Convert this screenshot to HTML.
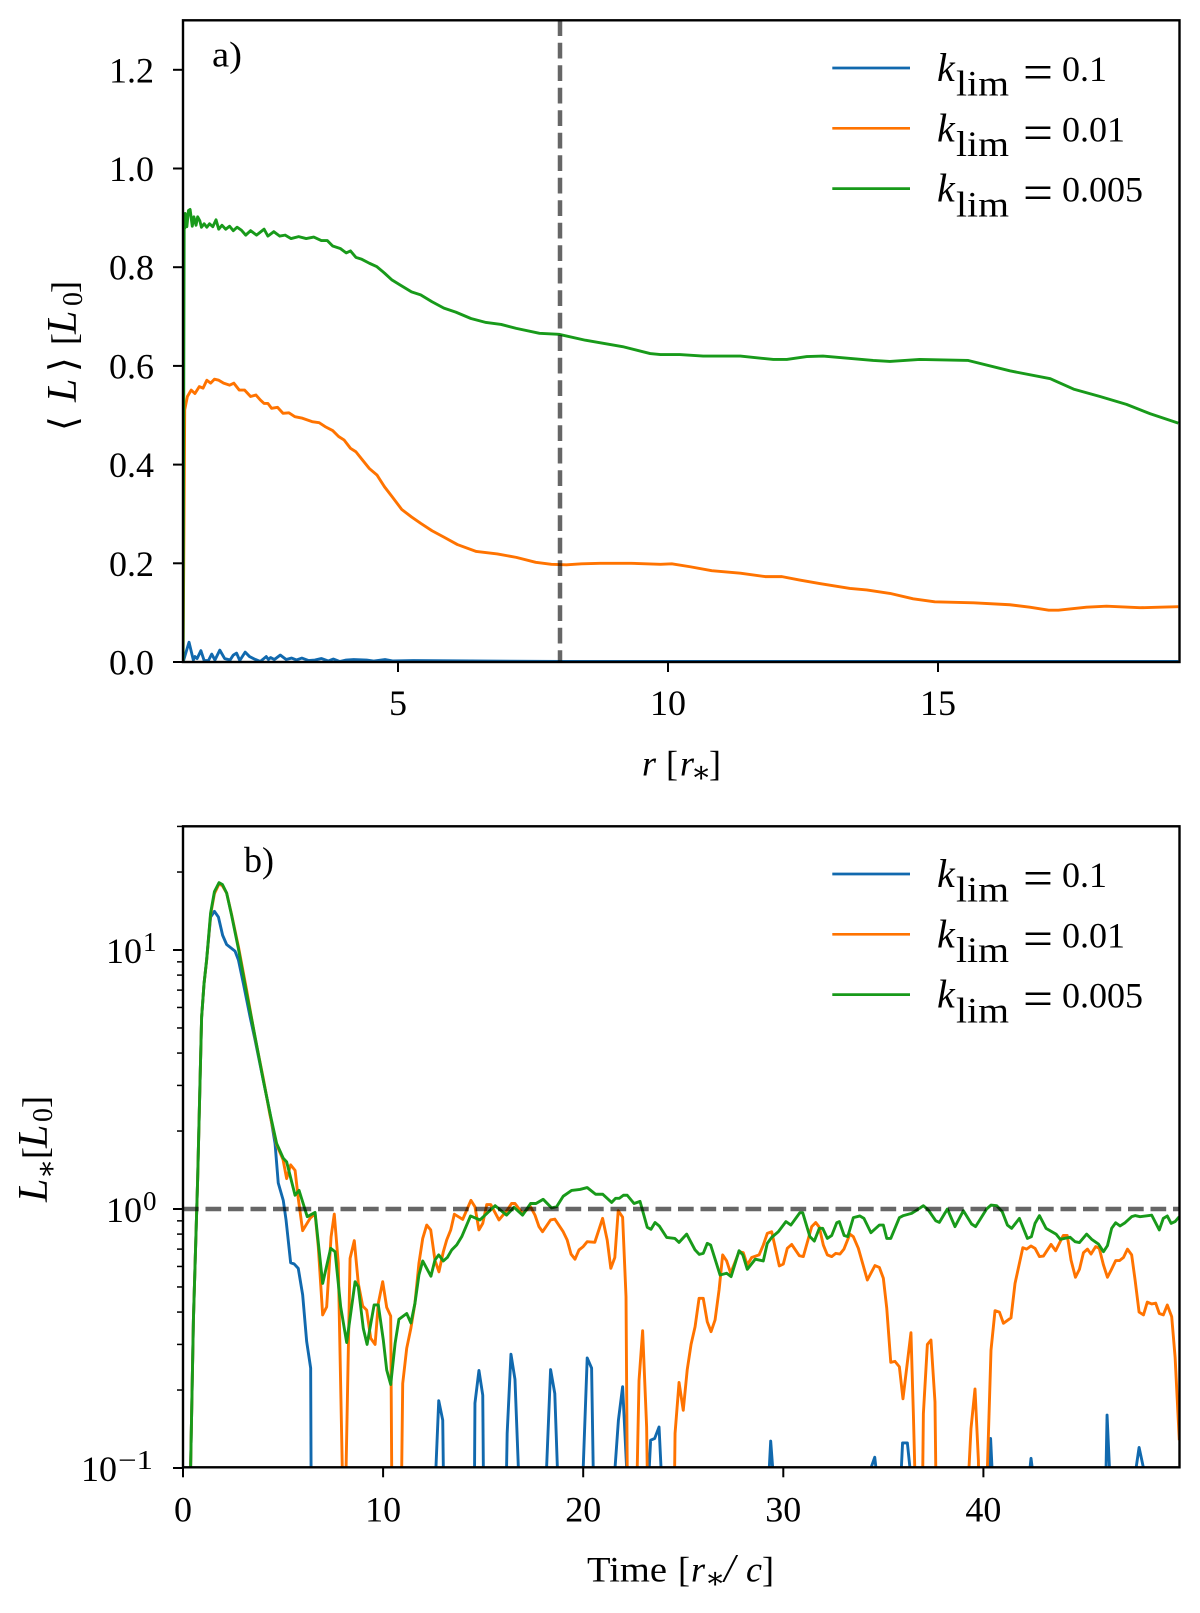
<!DOCTYPE html>
<html lang="en">
<head>
<meta charset="utf-8">
<title>Luminosity profiles</title>
<style>
html,body{margin:0;padding:0;background:#fff;}
svg{display:block;}
text{font-family:"Liberation Serif","DejaVu Serif",serif;fill:#000;font-size:36px;}
.it{font-style:italic;}
</style>
</head>
<body>
<svg id="chart" width="1200" height="1613" viewBox="0 0 1200 1613">
  <defs>
    <clipPath id="clip-a"><rect x="183" y="20.3" width="996.5" height="641.7"/></clipPath>
    <clipPath id="clip-b"><rect x="183" y="826.3" width="996.5" height="641"/></clipPath>
  </defs>
  <rect x="0" y="0" width="1200" height="1613" fill="#fff"/>
  <g id="panel-a"></g>
  <g id="panel-b"></g>

  <text x="212" y="66.7" textLength="30" lengthAdjust="spacingAndGlyphs">a)</text>
  <text x="244" y="872" textLength="30" lengthAdjust="spacingAndGlyphs">b)</text>

  <g>
    <text class="it" x="642" y="775.7">r</text>
    <text x="666" y="775.7">[</text>
    <text class="it" x="680" y="775.7">r</text>
    <text x="691" y="782" style="font-size:30px">∗</text>
    <text x="709" y="775.7">]</text>
  </g>
  <g>
    <text x="587" y="1581.7" textLength="80" lengthAdjust="spacingAndGlyphs">Time</text>
    <text x="678" y="1581.7">[</text>
    <text class="it" x="691" y="1581.7">r</text>
    <text x="705" y="1588" style="font-size:30px">∗</text>
    <text class="it" x="724" y="1581.7" style="font-size:40px">/</text>
    <text class="it" x="746" y="1581.7">c</text>
    <text x="762" y="1581.7">]</text>
  </g>
  <g>
    <text transform="translate(76,431) rotate(-90)" style='font-family:"DejaVu Sans","Liberation Serif",sans-serif;font-size:38px'>⟨</text>
    <text class="it" transform="translate(76,402) rotate(-90)" style="font-size:42px">L</text>
    <text transform="translate(76,372) rotate(-90)" style='font-family:"DejaVu Sans","Liberation Serif",sans-serif;font-size:38px'>⟩</text>
    <text transform="translate(76,345) rotate(-90)">[</text>
    <text class="it" transform="translate(76,334) rotate(-90)" style="font-size:42px">L</text>
    <text transform="translate(82,306) rotate(-90)" style="font-size:28px">0</text>
    <text transform="translate(76,293) rotate(-90)">]</text>
  </g>
  <g>
    <text class="it" transform="translate(47,1202) rotate(-90)" style="font-size:42px">L</text>
    <text transform="translate(56,1179) rotate(-90)" style="font-size:30px">∗</text>
    <text transform="translate(47,1159) rotate(-90)">[</text>
    <text class="it" transform="translate(47,1148) rotate(-90)" style="font-size:42px">L</text>
    <text transform="translate(52,1122) rotate(-90)" style="font-size:28px">0</text>
    <text transform="translate(47,1108) rotate(-90)">]</text>
  </g>
</svg>
<script>
// ---------- Panel a: radial profile data ----------
const radiusBlueA = [
1.02,1.13,1.21,1.24,1.28,1.35,1.41,1.49,1.55,1.61,
1.70,1.79,1.89,1.95,2.01,2.07,2.17,2.25,2.36,2.45,
2.56,2.60,2.64,2.71,2.82,2.93,3.03,3.12,3.22,3.34,
3.46,3.58,3.71,3.80,3.92,4.04,4.18,4.42,4.55,4.76,
4.91,5.28,8.02,19.45];
const lumBlueA = [
0,.04,.004,.011,.007,.023,.003,.003,.016,.004,
.024,.007,.004,.014,.018,.003,.02,.011,.005,.001,
.011,.005,.009,.005,.014,.005,.008,.004,.008,.003,
.004,.007,.002,.006,.001,.004,.005,.004,.002,.005,
.002,.003,.001,.001];
const radiusOrangeA = [
1.02,1.05,1.10,1.17,1.24,1.32,1.39,1.46,1.53,1.60,
1.68,1.77,1.88,1.96,2.06,2.16,2.27,2.37,2.45,2.52,
2.59,2.66,2.77,2.87,2.98,3.09,3.23,3.41,3.54,3.65,
3.79,3.90,4.00,4.12,4.22,4.33,4.47,4.61,4.75,4.89,
5.07,5.25,5.42,5.63,5.85,6.10,6.45,6.84,7.19,7.55,
7.84,8.12,8.40,8.74,9.32,9.86,10.07,10.41,10.81,11.34,
11.80,12.11,12.44,12.81,13.37,13.68,14.11,14.54,14.94,15.66,
16.33,16.70,17.05,17.23,17.75,18.12,18.74,19.11,19.45];
const lumOrangeA = [
0,.511,.538,.551,.544,.558,.555,.571,.565,.573,
.571,.565,.561,.565,.551,.551,.538,.541,.531,.524,
.524,.514,.516,.504,.505,.497,.494,.487,.485,.477,
.469,.457,.45,.433,.426,.411,.392,.379,.355,.335,
.309,.294,.281,.266,.253,.238,.224,.219,.212,.202,
.198,.197,.199,.2,.2,.198,.199,.193,.185,.18,
.173,.173,.166,.159,.149,.146,.139,.128,.122,.12,
.116,.111,.105,.105,.111,.113,.11,.111,.112];
const radiusGreenA = [
1.02,1.04,1.05,1.06,1.09,1.12,1.15,1.19,1.22,1.26,
1.29,1.33,1.36,1.41,1.46,1.51,1.57,1.63,1.68,1.74,
1.81,1.88,1.95,2.02,2.10,2.18,2.27,2.38,2.52,2.59,
2.70,2.81,2.91,3.02,3.16,3.30,3.44,3.58,3.69,3.79,
3.93,4.04,4.12,4.22,4.33,4.47,4.61,4.75,4.89,5.04,
5.25,5.42,5.63,5.85,6.07,6.35,6.63,6.91,7.19,7.62,
7.98,8.47,9.16,9.67,9.86,10.22,10.65,11.34,11.95,12.20,
12.57,12.87,13.80,14.11,14.66,15.56,16.33,17.08,17.51,18.00,
18.49,18.93,19.45];
const lumGreenA = [
0,.88,.879,.909,.882,.915,.917,.883,.902,.885,
.902,.894,.881,.888,.881,.888,.882,.896,.877,.885,
.877,.883,.874,.881,.875,.865,.874,.865,.877,.863,
.872,.863,.865,.858,.862,.858,.861,.854,.854,.843,
.838,.829,.833,.820,.816,.808,.801,.788,.774,.764,
.750,.744,.730,.717,.709,.696,.688,.684,.676,.666,
.664,.652,.639,.625,.623,.623,.62,.62,.613,.613,
.619,.62,.611,.609,.613,.611,.59,.574,.553,.538,
.522,.503,.484];
const radiusMarker = 8;
const xTicksA = [5,10,15];
const yTicksA = [0,0.2,0.4,0.6,0.8,1.0,1.2];

// ---------- Panel b: time series data ----------
const timeBlueB = [
.34,.38,.52,.73,.93,1.05,1.18,1.38,1.57,1.77,1.98,
2.18,2.60,2.77,3.02,3.35,3.60,4.01,4.35,4.60,4.76,
5.01,5.15,5.38,5.56,5.76,5.98,6.18,6.38,6.40,6.41,
12.62,12.64,12.78,12.98,13.01,13.03,
14.55,14.57,14.59,14.79,14.98,15.01,15.03,
16.15,16.17,16.20,16.39,16.59,16.76,16.78,
18.15,18.17,18.37,18.58,18.71,18.73,
19.98,20.00,20.20,20.42,20.50,20.52,
21.57,21.59,21.76,21.97,22.17,22.19,
23.28,23.30,23.37,23.57,23.79,23.89,23.91,
29.28,29.30,29.37,29.47,29.49,
34.36,34.38,34.57,34.63,34.65,
35.88,35.90,35.96,36.20,36.33,36.35,
40.26,40.28,40.36,40.43,40.45,
42.31,42.33,42.38,42.44,42.46,
46.11,46.13,46.18,46.30,46.32,
47.61,47.63,47.78,48.00,48.02,49.79];
const lumBlueB = [
.06,.1,.373,1.29,5.5,7.4,9.15,13.4,14.1,13.4,11.4,
10.5,9.9,9.15,7.4,5.53,4.5,3.15,2.34,1.79,1.26,
1.08,.907,.62,.613,.59,.466,.308,.243,.1,.06,
.06,.1,.182,.153,.1,.06,
.06,.1,.178,.238,.191,.1,.06,
.06,.1,.136,.275,.22,.1,.06,
.06,.1,.24,.194,.1,.06,
.06,.1,.266,.243,.1,.06,
.06,.1,.153,.206,.1,.06,
.06,.1,.128,.13,.144,.1,.06,
.06,.1,.127,.1,.06,
.06,.1,.11,.1,.06,
.06,.1,.125,.125,.1,.06,
.06,.1,.13,.1,.06,
.06,.1,.109,.1,.06,
.06,.1,.16,.1,.06,
.06,.1,.12,.1,.06,.06];
const timeOrangeB = [
.34,.38,.52,.73,.93,1.05,1.18,1.38,1.57,1.80,1.97,
2.18,2.43,2.77,3.18,3.60,4.01,4.35,4.68,5.00,5.18,
5.38,5.60,5.76,5.98,6.35,6.60,6.76,6.98,7.18,7.40,
7.56,7.76,7.96,8.00,8.13,8.15,8.35,8.56,8.76,8.98,
9.18,9.38,9.60,9.76,9.98,10.18,10.38,10.43,10.46,10.90,
10.93,10.98,11.18,11.39,11.59,11.79,11.98,12.18,12.38,12.59,
12.79,13.01,13.18,13.38,13.56,13.98,14.39,14.59,14.79,14.98,
15.18,15.38,15.79,16.20,16.42,16.59,16.97,17.37,17.59,17.79,
17.97,18.37,18.58,19.00,19.20,19.39,19.59,19.79,20.00,20.20,
20.58,20.97,21.20,21.38,21.58,21.75,21.97,22.14,22.20,22.25,
22.65,22.70,22.79,22.97,23.17,23.20,23.24,24.53,24.57,24.59,
24.79,25.00,25.20,25.39,25.59,25.79,26.00,26.20,26.39,26.59,
26.79,26.97,27.17,27.37,27.79,28.00,28.20,28.42,28.79,29.00,
29.20,29.42,29.80,30.00,30.20,30.42,30.80,31.00,31.42,31.62,
31.80,32.00,32.20,32.42,32.62,32.83,33.03,33.33,33.50,33.75,
34.20,34.58,34.80,35.00,35.17,35.37,35.58,35.80,35.98,36.38,
36.50,36.57,36.63,36.92,36.97,37.00,37.20,37.38,37.58,37.62,
37.66,39.24,39.28,39.38,39.58,39.75,39.80,40.13,40.20,40.38,
40.58,40.80,41.00,41.38,41.58,41.97,42.16,42.38,42.58,42.80,
43.00,43.38,43.61,43.99,44.19,44.38,44.60,44.80,45.00,45.20,
45.38,45.61,45.79,46.00,46.20,46.38,46.61,46.80,47.00,47.20,
47.41,47.58,47.78,48.00,48.19,48.41,48.61,48.79,48.99,49.19,
49.41,49.58,49.79];
const lumOrangeB = [
.06,.1,.373,1.29,5.5,7.4,9.1,13.7,16.5,18.0,17.7,
16.6,13.7,10.3,7.0,4.6,3.2,2.3,1.77,1.55,1.31,
1.48,1.41,1.1,.825,.92,.96,.716,.39,.419,.78,
.956,.617,.1,.06,.06,.1,.645,.755,.516,.422,
.407,.317,.30,.432,.524,.417,.386,.1,.06,.06,
.1,.212,.29,.347,.432,.617,.77,.867,.83,.635,
.572,.684,.76,.83,.955,.912,1.08,1.02,.83,.88,
1.04,1.04,.907,.99,1.05,1.05,.962,1.02,.947,.855,
.817,.907,.914,.817,.759,.67,.64,.695,.716,.748,
.744,.92,.759,.59,.65,.985,.93,.458,.1,.06,
.06,.1,.218,.339,.144,.1,.06,.06,.1,.136,
.214,.167,.24,.3,.351,.452,.452,.367,.336,.373,
.487,.665,.63,.565,.684,.678,.608,.65,.665,.726,
.805,.817,.603,.613,.705,.73,.66,.655,.855,.887,
.85,.726,.665,.655,.674,.67,.70,.80,.782,.705,
.532,.605,.595,.54,.414,.256,.258,.246,.185,.333,
.162,.1,.06,.06,.1,.162,.30,.312,.18,.1,
.06,.06,.1,.142,.202,.107,.06,.06,.1,.285,
.405,.40,.362,.38,.516,.709,.70,.72,.705,.655,
.658,.73,.69,.79,.79,.635,.545,.585,.678,.70,
.67,.716,.705,.608,.545,.58,.632,.632,.65,.70,
.665,.532,.40,.39,.437,.43,.433,.395,.39,.426,
.384,.268,.128];
const timeGreenB = [
.34,.38,.52,.73,.93,1.05,1.18,1.38,1.57,1.80,1.97,
2.18,2.43,2.77,3.18,3.60,4.01,4.35,4.68,5.01,5.18,
5.60,5.80,6.21,6.60,6.98,7.38,7.60,7.88,8.18,8.60,
8.76,9.01,9.20,9.55,9.76,10.01,10.18,10.38,10.60,10.79,
11.18,11.39,11.59,11.79,11.98,12.39,12.59,12.78,13.01,13.21,
13.43,13.68,13.93,14.37,14.84,15.60,16.17,16.54,16.97,17.37,
17.64,18.00,18.42,18.67,19.00,19.42,19.84,20.20,20.62,20.98,
21.42,21.62,21.81,22.01,22.20,22.54,22.84,23.20,23.39,23.59,
23.80,24.17,24.58,24.79,25.17,25.59,25.80,26.00,26.20,26.37,
26.84,27.17,27.39,27.79,27.98,28.20,28.60,29.00,29.20,29.42,
29.75,30.13,30.38,30.83,30.97,31.33,31.55,31.80,31.97,32.20,
32.42,32.67,32.80,33.04,33.22,33.50,33.83,34.03,34.38,34.80,
35.00,35.17,35.37,35.80,36.00,36.41,36.67,37.00,37.25,37.62,
37.80,38.20,38.58,39.00,39.41,39.61,40.16,40.38,40.66,40.94,
41.20,41.41,41.80,42.20,42.40,42.58,42.80,43.13,43.63,43.84,
44.33,44.58,44.80,45.16,45.41,45.75,46.00,46.20,46.41,46.61,
46.83,47.08,47.41,47.58,47.83,48.41,48.79,48.99,49.19,49.38,
49.58,49.79];
const lumGreenB = [
.06,.1,.373,1.29,5.5,7.4,9.15,13.9,16.8,18.2,17.9,
16.6,13.6,10.1,6.8,4.63,3.15,2.34,1.79,1.57,1.52,
1.13,1.18,.934,.97,.516,.705,.684,.419,.305,.524,
.501,.346,.30,.426,.426,.312,.239,.21,.303,.375,
.395,.363,.432,.556,.63,.55,.635,.665,.63,.65,
.695,.727,.782,.94,.907,1.03,.947,1.015,.947,1.05,
1.05,1.09,1.01,1.02,1.12,1.18,1.19,1.21,1.14,1.14,
1.06,1.10,1.10,1.13,1.13,1.05,1.07,.85,.835,.887,
.86,.777,.77,.743,.80,.695,.668,.674,.737,.726,
.556,.565,.548,.69,.665,.585,.64,.63,.737,.777,
.817,.894,.867,.968,.968,.782,.752,.842,.842,.77,
.79,.885,.894,.79,.782,.926,.94,.92,.81,.867,
.867,.77,.77,.926,.943,.962,.99,1.03,.99,.90,
.888,1.0,.855,.985,.875,.855,1.0,1.035,1.03,.977,
.867,.842,.92,.77,.782,.88,.943,.842,.80,.764,
.778,.748,.742,.80,.764,.732,.684,.722,.842,.885,
.86,.885,.934,.943,.934,.947,.83,.92,.94,.88,
.894,.934];
const luminosityMarker = 1;
const xTicksB = [0,10,20,30,40];
const yTickExponents = [-1,0,1];
const yMinorMultipliers = [2,3,4,5,6,7,8,9];
const legendValues = ['0.1','0.01','0.005'];

// ---------- Axis functions ----------
const svg = document.getElementById('chart');
const NS = svg.namespaceURI;
const AX = {left:183, right:1179.5, topA:20.3, bottomA:662, topB:826.3, bottomB:1467.3};
const xA = r => 398 + (r - 5) * 54;
const yA = v => AX.bottomA - v * 493.5;
const xB = t => AX.left + t * 20.01;
const yB = v => 1209 - Math.log10(v) * 259;

const COLORS = {blue:'#1169ae', orange:'#ff7300', green:'#189a1a'};

function addLine(parent, x1, y1, x2, y2, width, name) {
  const el = document.createElementNS(NS, 'line');
  
  
  el.setAttribute('x1', x1);
  el.setAttribute('y1', y1);
  el.setAttribute('x2', x2);
  el.setAttribute('y2', y2);
  el.setAttribute('stroke', '#000');
  el.setAttribute('stroke-width', width);
  parent.appendChild(el);
  return el;
}
function addText(parent, str, x, y, name, anchor, size, len) {
  const el = document.createElementNS(NS, 'text');
  
  
  el.setAttribute('x', x);
  el.setAttribute('y', y);
  if (anchor) el.setAttribute('text-anchor', anchor);
  if (size) el.style.fontSize = size + 'px';
  if (len) {
    el.setAttribute('textLength', len);
    el.setAttribute('lengthAdjust', 'spacingAndGlyphs');
  }
  el.textContent = str;
  parent.appendChild(el);
  return el;
}
function addSeries(parent, xs, ys, xFn, yFn, color, clipId, name) {
  const el = document.createElementNS(NS, 'path');
  
  
  let d = '';
  for (let i = 0; i < xs.length; i++) {
    d += (i ? 'L' : 'M') + xFn(xs[i]).toFixed(2) + ' ' + yFn(ys[i]).toFixed(2);
  }
  el.setAttribute('d', d);
  el.setAttribute('fill', 'none');
  el.setAttribute('stroke', color);
  el.setAttribute('stroke-width', '2.9');
  el.setAttribute('stroke-linejoin', 'round');
  el.setAttribute('clip-path', 'url(#' + clipId + ')');
  parent.appendChild(el);
  return el;
}
function addDashed(parent, x1, y1, x2, y2, name) {
  const el = addLine(parent, x1, y1, x2, y2, 4.5, name);
  el.setAttribute('stroke-opacity', '0.6');
  el.setAttribute('stroke-dasharray', '15.7 6.8');
  return el;
}
function addSpines(parent, top, bottom, name) {
  const el = document.createElementNS(NS, 'rect');
  
  
  el.setAttribute('x', AX.left);
  el.setAttribute('y', top);
  el.setAttribute('width', AX.right - AX.left);
  el.setAttribute('height', bottom - top);
  el.setAttribute('fill', 'none');
  el.setAttribute('stroke', '#000');
  el.setAttribute('stroke-width', '2.4');
  parent.appendChild(el);
}
function addLegend(parent, offset, name) {
  const g = document.createElementNS(NS, 'g');
  
  
  const cols = [COLORS.blue, COLORS.orange, COLORS.green];
  legendValues.forEach((val, i) => {
    const y0 = offset + 68 + i * 60.33;
    const sw = addLine(g, 832.3, y0, 910, y0, 2.7, 'legend-line-' + val);
    sw.setAttribute('stroke', cols[i]);
    const k = addText(g, 'k', 937, y0 + 13, 'legend-k-' + val, null, 40);
    k.setAttribute('class', 'it');
    addText(g, 'lim', 956, y0 + 27.7, 'legend-subscript-' + val, null, 36, 53);
    addText(g, '=', 1023, y0 + 21, 'legend-equals-' + val, null, 50, 30);
    addText(g, val, 1062, y0 + 13, 'legend-value-' + val);
  });
  parent.appendChild(g);
}

// ---------- Panel a ----------
const pa = document.getElementById('panel-a');
addSeries(pa, radiusBlueA, lumBlueA, xA, yA, COLORS.blue, 'clip-a', 'series-a-klim-0.1');
addSeries(pa, radiusOrangeA, lumOrangeA, xA, yA, COLORS.orange, 'clip-a', 'series-a-klim-0.01');
addSeries(pa, radiusGreenA, lumGreenA, xA, yA, COLORS.green, 'clip-a', 'series-a-klim-0.005');
addDashed(pa, xA(radiusMarker), AX.topA, xA(radiusMarker), AX.bottomA, 'radius-reference-line');
addSpines(pa, AX.topA, AX.bottomA, 'panel-a-frame');
xTicksA.forEach(v => {
  addLine(pa, xA(v), AX.bottomA, xA(v), AX.bottomA + 10, 2, 'x-tick-a-' + v);
  addText(pa, String(v), xA(v), 715, 'x-tick-label-a-' + v, 'middle');
});
yTicksA.forEach(v => {
  addLine(pa, AX.left - 10, yA(v), AX.left, yA(v), 2, 'y-tick-a-' + v.toFixed(1));
  addText(pa, v.toFixed(1), 154, yA(v) + 12.5, 'y-tick-label-a-' + v.toFixed(1), 'end');
});
addLegend(pa, 0, 'legend-a');

// ---------- Panel b ----------
const pb = document.getElementById('panel-b');
addSeries(pb, timeBlueB, lumBlueB, xB, yB, COLORS.blue, 'clip-b', 'series-b-klim-0.1');
addSeries(pb, timeOrangeB, lumOrangeB, xB, yB, COLORS.orange, 'clip-b', 'series-b-klim-0.01');
addSeries(pb, timeGreenB, lumGreenB, xB, yB, COLORS.green, 'clip-b', 'series-b-klim-0.005');
addDashed(pb, AX.left, yB(luminosityMarker), AX.right, yB(luminosityMarker), 'luminosity-reference-line');
addSpines(pb, AX.topB, AX.bottomB, 'panel-b-frame');
xTicksB.forEach(v => {
  addLine(pb, xB(v), AX.bottomB, xB(v), AX.bottomB + 10, 2, 'x-tick-b-' + v);
  addText(pb, String(v), xB(v), 1521.7, 'x-tick-label-b-' + v, 'middle');
});
yTickExponents.forEach(e => {
  const v = Math.pow(10, e);
  addLine(pb, AX.left - 10, yB(v), AX.left, yB(v), 2, 'y-tick-b-' + e);
  yMinorMultipliers.forEach(m => {
    const mv = m * v;
    if (mv <= 30) addLine(pb, AX.left - 6, yB(mv), AX.left, yB(mv), 1.5, 'y-minor-tick-b-' + mv);
  });
  const lab = e < 0 ? '\u2212' + Math.abs(e) : String(e);
  const tenRight = e < 0 ? 117 : 142;
  addText(pb, '10', tenRight, yB(v) + 13, 'y-tick-label-b-base-' + e, 'end');
  addText(pb, lab, e < 0 ? 118 : 143, yB(v) + 1, 'y-tick-label-b-exponent-' + e, null, 27, e < 0 ? 35 : 0);
});
addLegend(pb, 806, 'legend-b');
</script>
</body>
</html>
